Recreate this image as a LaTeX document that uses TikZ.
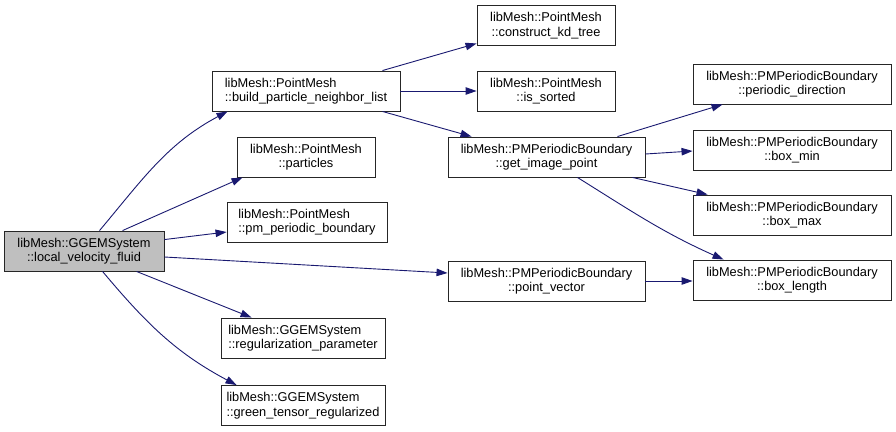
\documentclass[tikz,border=0pt]{standalone}
\usepackage{fontspec}
\setmainfont{Liberation Sans}
\usetikzlibrary{arrows.meta}
\definecolor{edgeblue}{HTML}{191970}
\definecolor{mainfill}{HTML}{BFBFBF}
\begin{document}
\begin{tikzpicture}[x=1pt,y=-1pt,
 box/.style={draw=black!85, line width=0.9pt, fill=white, minimum height=40pt, inner sep=0pt, font=\fontsize{12.8}{14.5}\selectfont, align=center, text=black},
 lbox/.style={box, align=left},
 e/.style={draw=edgeblue, line width=0.9pt, -{Triangle[length=11pt,width=7.5pt]}},
]
\useasboundingbox (0,0) rectangle (896,431);
% nodes
\node[box, fill=mainfill, minimum width=160pt] (main) at (84,251) {libMesh::GGEMSystem\\::local\_velocity\_fluid};
\node[lbox, minimum width=188pt] (build) at (306,91) {libMesh::PointMesh\\::build\_particle\_neighbor\_list};
\node[box, minimum width=138pt] (part) at (306,157) {libMesh::PointMesh\\::particles};
\node[lbox, minimum width=160pt] (pmb) at (307,222) {libMesh::PointMesh\\::pm\_periodic\_boundary};
\node[lbox, minimum width=164pt] (reg) at (303,338) {libMesh::GGEMSystem\\::regularization\_parameter};
\node[lbox, minimum width=164pt] (green) at (303,405.5) {libMesh::GGEMSystem\\::green\_tensor\_regularized};
\node[box, minimum width=138pt] (kd) at (546,25.5) {libMesh::PointMesh\\::construct\_kd\_tree};
\node[box, minimum width=138pt] (sorted) at (546,91) {libMesh::PointMesh\\::is\_sorted};
\node[box, minimum width=197pt] (gip) at (546.5,157) {libMesh::PMPeriodicBoundary\\::get\_image\_point};
\node[box, minimum width=197pt] (pv) at (546.5,281) {libMesh::PMPeriodicBoundary\\::point\_vector};
\node[box, minimum width=198pt] (pd) at (792,84) {libMesh::PMPeriodicBoundary\\::periodic\_direction};
\node[box, minimum width=198pt] (bmin) at (792,150) {libMesh::PMPeriodicBoundary\\::box\_min};
\node[box, minimum width=198pt] (bmax) at (792,215) {libMesh::PMPeriodicBoundary\\::box\_max};
\node[box, minimum width=198pt] (blen) at (792,280) {libMesh::PMPeriodicBoundary\\::box\_length};
% edges from main
\draw[e] ([xshift=96pt]main.north west) to[out=50,in=208] ([xshift=16pt]build.south west);
\draw[e] ([xshift=119pt]main.north west) -- ([xshift=6pt]part.south west);
\draw[e] ([yshift=-9pt]main.north east) -- ([yshift=-10pt]pmb.west);
\draw[e] ([yshift=-6pt]main.east) -- ([yshift=8pt]pv.west);
\draw[e] ([xshift=133pt]main.south west) -- ([xshift=31pt]reg.north west);
\draw[e] ([xshift=99pt]main.south west) to[out=-50,in=152] ([xshift=16pt]green.north west);
% edges from build
\draw[e] ([xshift=-18pt]build.north east) -- ([yshift=2.5pt]kd.south west);
\draw[e] (build.east) -- (sorted.west);
\draw[e] ([xshift=-18pt]build.south east) -- ([xshift=24pt]gip.north west);
% edges from get_image_point
\draw[e] ([xshift=-28pt]gip.north east) -- ([xshift=30pt]pd.south west);
\draw[e] ([yshift=3pt]gip.east) -- ([yshift=-1pt]bmin.west);
\draw[e] ([xshift=-13pt]gip.south east) -- ([xshift=15pt]bmax.north west);
\draw[e] ([xshift=-68pt]gip.south east) to[out=-32,in=156] ([xshift=31pt]blen.north west);
% point_vector
\draw[e] (pv.east) -- (pv.east -| blen.west);
\end{tikzpicture}
\end{document}
